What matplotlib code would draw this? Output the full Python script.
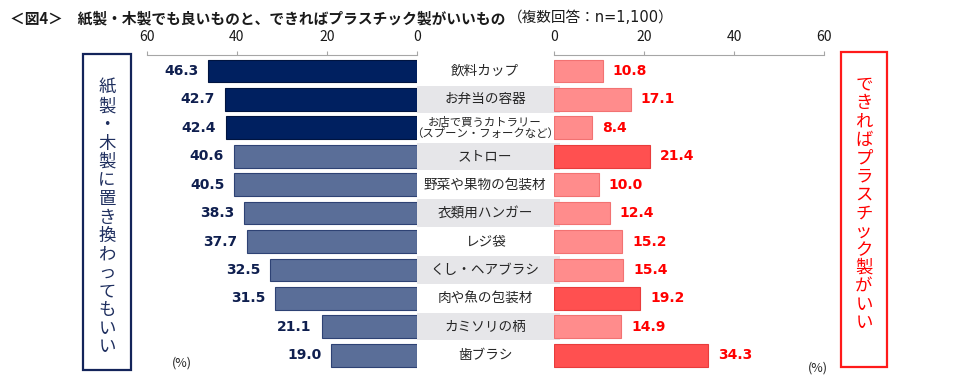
import matplotlib
matplotlib.use('Agg')
import matplotlib.pyplot as plt
from matplotlib.patches import Rectangle

plt.rcParams['font.family'] = ['Noto Sans CJK JP', 'DejaVu Sans']

# data
categories = ['飲料カップ', 'お弁当の容器', 'お店で買うカトラリー\n（スプーン・フォークなど）', 'ストロー',
              '野菜や果物の包装材', '衣類用ハンガー', 'レジ袋', 'くし・ヘアブラシ', '肉や魚の包装材',
              'カミソリの柄', '歯ブラシ']
paper_ok = [46.3, 42.7, 42.4, 40.6, 40.5, 38.3, 37.7, 32.5, 31.5, 21.1, 19.0]
plastic_pref = [10.8, 17.1, 8.4, 21.4, 10.0, 12.4, 15.2, 15.4, 19.2, 14.9, 34.3]
paper_top = ['飲料カップ', 'お弁当の容器', 'お店で買うカトラリー\n（スプーン・フォークなど）']
plastic_top = ['ストロー', '肉や魚の包装材', '歯ブラシ']
ticks = [0, 20, 40, 60]

title = '＜図4＞　紙製・木製でも良いものと、できればプラスチック製がいいもの'
subtitle = '（複数回答：n=1,100）'
left_label = '紙製・木製に置き換わってもいい'
right_label = 'できればプラスチック製がいい'

W, H = 960, 385
NAVY = '#0F1F4F'
RED = '#FF0000'
GRAY = '#A6A6A6'

fig = plt.figure(figsize=(W / 100, H / 100), dpi=100)


def box(x0, y0, x1, y1):
    # pixel box (top-left origin) -> figure fraction rect
    return [x0 / W, 1 - y1 / H, (x1 - x0) / W, (y1 - y0) / H]


top, bottom = 55, 369.5
ylim = (10.5, -0.56)
n = len(categories)
ys = list(range(n))

# middle band with category names
axm = fig.add_axes(box(416.7, top, 560, bottom), zorder=1)
axm.set_xlim(0, 1)
axm.set_ylim(*ylim)
axm.axis('off')
for i, c in enumerate(categories):
    if i % 2 == 1:
        axm.axhspan(i - 0.48, i + 0.48, xmin=0, xmax=1, color='#E6E6E9', lw=0)
    if '\n' in c:
        axm.text(0.477, i, c, ha='center', va='center', fontsize=8.2, color='#262626', linespacing=1.05)
    else:
        axm.text(0.477, i, c, ha='center', va='center', fontsize=9.8, color='#262626')


def style_axis(ax):
    for s in ['left', 'right', 'bottom']:
        ax.spines[s].set_visible(False)
    ax.spines['top'].set_color(GRAY)
    ax.spines['top'].set_linewidth(0.8)
    ax.xaxis.tick_top()
    ax.tick_params(axis='x', direction='out', length=3, color=GRAY, labelsize=10,
                   labelcolor='#1a1a1a', pad=5)
    ax.set_yticks([])
    ax.set_xticks(ticks)
    ax.set_ylim(*ylim)
    ax.patch.set_alpha(0)


# left: paper / wood ok
axl = fig.add_axes(box(146.7, top, 416.7, bottom), zorder=2)
lc = ['#002060' if c in paper_top else '#5A6E98' for c in categories]
le = ['#001440' if c in paper_top else '#2E4274' for c in categories]
axl.barh(ys, paper_ok, height=0.8, color=lc, edgecolor=le, linewidth=0.8)
axl.set_xlim(60, 0)
style_axis(axl)
for i, v in enumerate(paper_ok):
    axl.text(v + 2.2, i, f'{v:.1f}', ha='right', va='center', fontsize=10, fontweight='bold',
             color=NAVY, family='DejaVu Sans')

# right: plastic preferred
axr = fig.add_axes(box(554, top, 824, bottom), zorder=3)
rc = ['#FF5050' if c in plastic_top else '#FF8C8C' for c in categories]
re_ = ['#E83C3C' if c in plastic_top else '#F27272' for c in categories]
axr.barh(ys, plastic_pref, height=0.8, color=rc, edgecolor=re_, linewidth=0.8)
axr.set_xlim(0, 60)
style_axis(axr)
for i, v in enumerate(plastic_pref):
    axr.text(v + 2.2, i, f'{v:.1f}', ha='left', va='center', fontsize=10, fontweight='bold',
             color=RED, family='DejaVu Sans')

# (%) units
fig.text(182 / W, 1 - 363 / H, '(%)', ha='center', va='center', fontsize=9, color='#262626')
fig.text(818 / W, 1 - 368 / H, '(%)', ha='center', va='center', fontsize=9, color='#262626')

# side boxes with vertical text
fig.add_artist(Rectangle((83.3 / W, 1 - 370 / H), 47.4 / W, 315.7 / H, transform=fig.transFigure,
                         fill=False, edgecolor='#13245A', linewidth=1.6))
for k, ch in enumerate(left_label):
    fig.text(107 / W, 1 - (88 + k * 18.5) / H, ch, ha='center', va='center', fontsize=12.5,
             color='#1F2F5F')
fig.add_artist(Rectangle((840.7 / W, 1 - 367.3 / H), 46.6 / W, 315 / H, transform=fig.transFigure,
                         fill=False, edgecolor='#FF1A1A', linewidth=1.6))
for k, ch in enumerate(right_label):
    fig.text(864 / W, 1 - (85 + k * 18.3) / H, ch, ha='center', va='center', fontsize=12.5,
             color=RED)

# title
t = fig.text(10 / W, 1 - 18 / H, title, ha='left', va='center', fontsize=10.6, fontweight='bold',
             color='#1a1a1a')
r = fig.canvas.get_renderer()
bb = t.get_window_extent(renderer=r)
fig.text((bb.x1 + 2) / W, 1 - 18 / H, subtitle, ha='left', va='center', fontsize=10.5,
         color='#1a1a1a', family=['DejaVu Sans', 'Noto Sans CJK JP'])

fig.savefig('out.png', dpi=100)
